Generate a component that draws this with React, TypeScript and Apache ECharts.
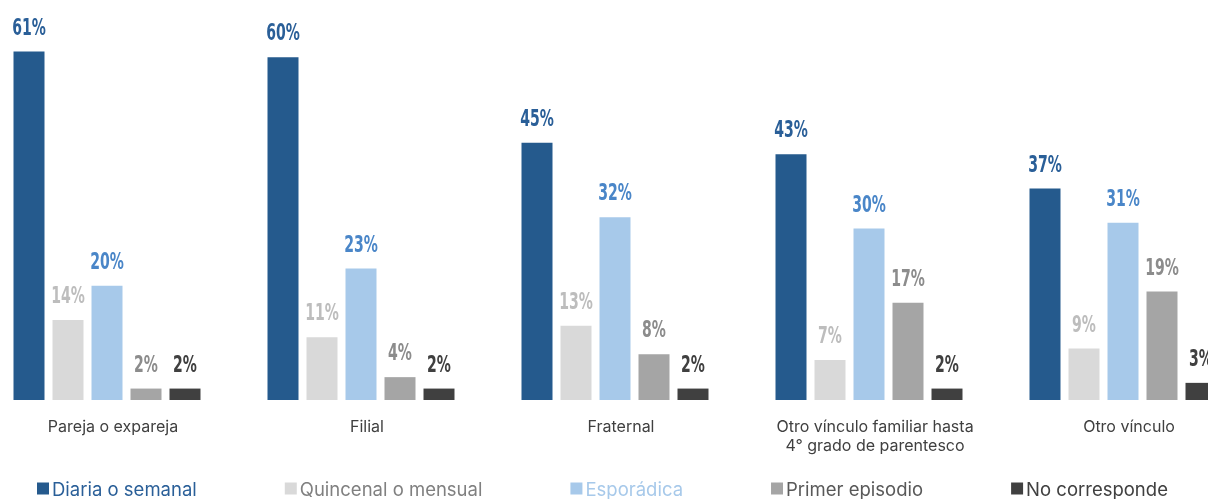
import React, { useEffect, useRef } from "react";
import * as echarts from "echarts";

const categories = [
  "Pareja o expareja",
  "Filial",
  "Fraternal",
  "Otro vínculo familiar hasta\n4° grado de parentesco",
  "Otro vínculo",
];
const seriesNames = [
  "Diaria o semanal",
  "Quincenal o mensual",
  "Esporádica",
  "Primer episodio",
  "No corresponde",
];
const diaria = [61, 60, 45, 43, 37];
const quincenal = [14, 11, 13, 7, 9];
const esporadica = [20, 23, 32, 30, 31];
const primer = [2, 4, 8, 17, 19];
const noCorresponde = [2, 2, 2, 2, 3];

const barColors = ["#255a8d", "#d9d9d9", "#a7c9ea", "#a5a5a5", "#404040"];
const labelColors = ["#2a5f98", "#bdbdbd", "#4a86c8", "#8c8c8c", "#404040"];
const legendTextColors = ["#2a5f98", "#808080", "#a7c9ea", "#595959", "#404040"];

const BAR_W = 31;
const BAR_STEP = 39;

export default function App() {
  const ref = useRef<HTMLDivElement>(null);
  useEffect(() => {
    if (!ref.current) return;
    const chart = echarts.init(ref.current, null, { renderer: "svg" });
    const values = [diaria, quincenal, esporadica, primer, noCorresponde];
    const barSeries = seriesNames.map((n, i) => ({
      name: n,
      type: "bar",
      data: values[i],
      barWidth: BAR_W,
      barGap: ((BAR_STEP - BAR_W) / BAR_W) * 100 + "%",
      itemStyle: { color: barColors[i] },
    }));
    const labelSeries = seriesNames.map((n, i) => ({
      name: "label-" + i,
      type: "custom",
      data: values[i].map((v, j) => [j, v]),
      encode: { x: 0, y: 1 },
      z: 5,
      renderItem: (params: any, api: any) => {
        const c = api.coord([api.value(0), api.value(1)]);
        const offset = (i - 2) * BAR_STEP;
        return {
          type: "text",
          x: c[0] + offset,
          y: c[1] - 13,
          scaleX: 0.68,
          style: {
            text: api.value(1) + "%",
            fill: labelColors[i],
            font: "bold 23px 'DejaVu Sans Condensed', sans-serif",
            textAlign: "center",
            textVerticalAlign: "bottom",
          },
        };
      },
    }));
    chart.setOption({
      animation: false,
      grid: { left: 0, right: 0, top: 0, bottom: 99, containLabel: false },
      legend: {
        bottom: -4,
        left: 52,
        itemWidth: 12,
        itemHeight: 12,
        itemGap: 88,
        icon: "rect",
        textStyle: { fontFamily: "Inter", fontSize: 18.5, padding: [0, 0, 0, -2] },
        data: seriesNames.map((n, i) => ({
          name: n,
          textStyle: { color: legendTextColors[i] },
        })),
      },
      xAxis: {
        type: "category",
        data: categories,
        axisLine: { show: false },
        axisTick: { show: false },
        axisLabel: {
          interval: 0,
          margin: 16,
          fontFamily: "Inter",
          fontSize: 16,
          lineHeight: 19,
          color: "#404040",
          padding: [0, 0, 0, 12],
        },
      },
      yAxis: {
        type: "value",
        min: 0,
        max: 70,
        show: false,
        splitLine: { show: false },
      },
      series: [...barSeries, ...labelSeries],
    });
    return () => chart.dispose();
  }, []);
  return (
    <div
      ref={ref}
      style={{ position: "fixed", left: -20, top: 0, width: 1270, height: 499 }}
    />
  );
}
